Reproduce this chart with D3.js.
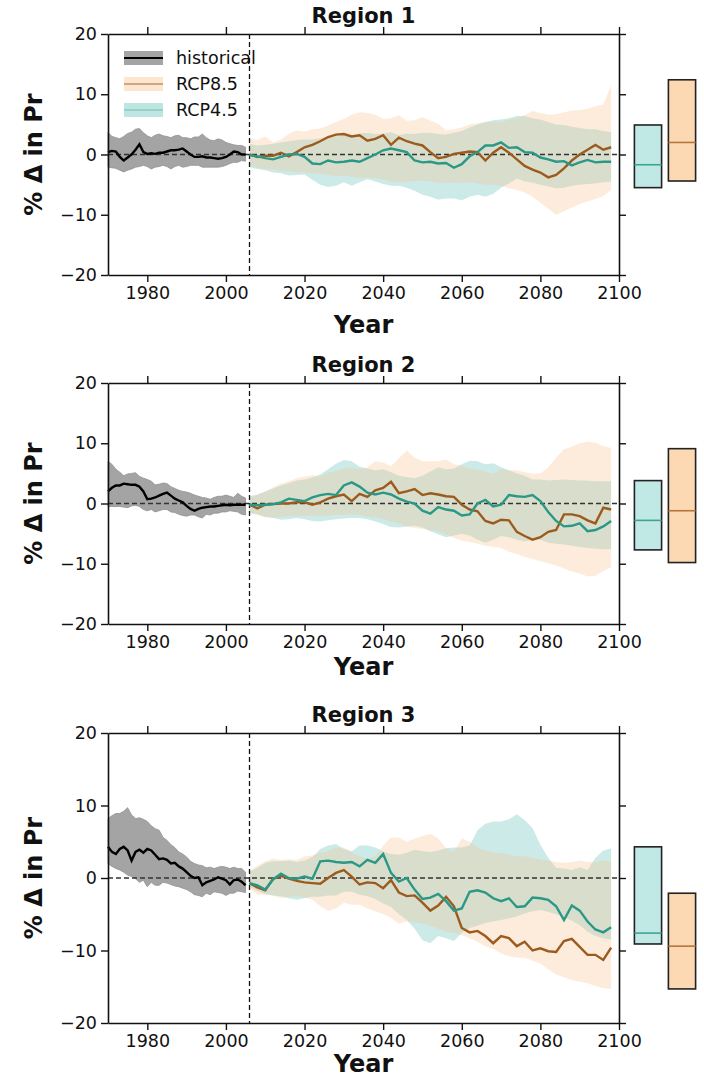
<!DOCTYPE html>
<html lang="en">

<head>
	<meta charset="utf-8">
	<title>D3: % change in precipitation by region</title>
	<script type="text/javascript" src="https://cdn.jsdelivr.net/npm/d3@7"></script>
	<style type="text/css">
		body {
			margin: 0;
			background: #fff;
		}
		svg text {
			font-family: "DejaVu Sans", sans-serif;
			fill: #111;
		}
	</style>
</head>

<body>
	<script type="text/javascript">

		// years and tick values
		var histYears = d3.range(1970, 2006);
		var rcpYears = d3.range(2006, 2100, 2);
		var xTicks = [1980, 2000, 2020, 2040, 2060, 2080, 2100];
		var yTicks = [-20, -10, 0, 10, 20];
		var regionNames = ["Region 1", "Region 2", "Region 3"];
		var scenarios = ["RCP4.5", "RCP8.5"];
		var legendNames = ["historical", "RCP8.5", "RCP4.5"];

		// Region 1
		var r1HistMean = [0.4, 0.6, 0.5, -0.4, -1.0, -0.5, 0.0, 0.8, 1.7, 0.4, 0.1, 0.2, 0.1, 0.3, 0.3, 0.5, 0.7, 0.7, 0.8, 1.0,
			0.5, 0.0, -0.4, -0.4, -0.3, -0.5, -0.5, -0.6, -0.7, -0.6, -0.4, 0.0, 0.5, 0.4, 0.0, 0.0];
		var r1HistHi = [3.7, 3.0, 2.8, 2.6, 3.0, 3.5, 3.7, 4.2, 4.3, 3.6, 3.1, 2.8, 3.2, 3.4, 3.1, 3.0, 2.8, 3.1, 3.2, 2.8,
			2.8, 2.6, 2.9, 2.9, 3.4, 2.8, 2.4, 2.3, 2.6, 2.4, 2.0, 1.8, 1.6, 1.5, 1.5, 1.2];
		var r1HistLo = [-2.1, -2.2, -2.3, -2.6, -2.9, -2.6, -2.4, -2.1, -2.0, -1.8, -2.0, -2.4, -2.1, -2.0, -1.8, -2.0, -2.4, -2.0, -1.8, -2.1,
			-2.0, -1.8, -1.8, -1.8, -2.1, -2.1, -2.1, -2.1, -2.1, -2.0, -1.8, -1.5, -1.3, -1.3, -1.0, -1.1];
		var r1R85Mean = [0.0, -0.4, -0.2, -0.2, 0.3, -0.3, 0.4, 1.2, 1.6, 2.2, 2.9, 3.3, 3.4, 3.0, 3.2,
			2.3, 2.6, 3.2, 1.6, 2.8, 2.2, 1.8, 1.5, 0.4, -0.6, -0.4, 0.1, 0.3, 0.5, 0.4, -1.0,
			0.3, 1.2, 0.3, -0.8, -1.9, -2.5, -3.0, -3.8, -3.4, -2.3, -1.0, 0.0, 0.8, 1.6, 0.8, 1.2];
		var r1R85Hi = [2.6, 2.4, 3.0, 2.0, 2.5, 3.4, 4.0, 3.8, 4.2, 4.3, 4.8, 5.4, 5.9, 6.6, 7.0,
			6.9, 6.6, 5.9, 6.0, 6.5, 5.6, 5.7, 6.2, 5.6, 5.1, 4.0, 4.2, 4.5, 5.0, 5.2, 5.4,
			5.4, 5.4, 5.8, 6.0, 6.5, 7.2, 6.9, 6.6, 6.7, 7.0, 7.3, 7.4, 7.6, 8.0, 8.3, 11.5];
		var r1R85Lo = [-1.8, -2.2, -2.5, -2.5, -2.8, -2.8, -3.0, -3.0, -3.1, -3.2, -3.4, -3.6, -3.5, -3.7, -3.9,
			-3.8, -4.0, -4.2, -4.5, -4.6, -4.6, -4.4, -4.3, -4.5, -4.7, -4.8, -4.6, -4.8, -4.6, -4.8, -5.0,
			-5.0, -5.2, -5.6, -5.9, -6.3, -7.0, -8.0, -9.0, -10.0, -9.4, -8.8, -8.2, -7.8, -7.4, -6.9, -5.9];
		var r1R45Mean = [-0.1, -0.3, -0.6, -0.8, -0.4, 0.0, 0.1, -0.4, -1.5, -1.6, -1.0, -1.3, -1.2, -1.0, -1.2,
			-0.6, 0.0, 0.7, 1.0, 0.7, 0.4, -1.0, -1.3, -1.2, -1.5, -1.4, -2.2, -1.6, -0.3, 0.4, 1.5,
			1.5, 2.0, 1.1, 1.2, 0.4, 0.3, -0.5, -0.8, -1.2, -1.1, -1.8, -1.3, -0.9, -1.3, -1.2, -1.2];
		var r1R45Hi = [1.8, 1.5, 1.6, 1.8, 2.0, 2.2, 2.4, 2.5, 2.5, 2.7, 3.0, 3.0, 3.2, 3.2, 3.5,
			3.6, 3.4, 3.5, 3.7, 3.2, 3.5, 3.4, 3.6, 3.6, 3.4, 3.3, 3.6, 3.9, 4.5, 5.0, 5.4,
			5.7, 5.8, 6.0, 6.4, 6.4, 6.0, 5.8, 5.4, 5.0, 4.9, 4.6, 4.4, 4.2, 4.2, 3.9, 3.7];
		var r1R45Lo = [-2.1, -2.4, -2.6, -3.0, -3.1, -3.5, -3.4, -3.3, -4.2, -5.0, -5.4, -5.2, -4.6, -5.2, -4.6,
			-4.1, -4.5, -4.9, -5.2, -5.2, -5.5, -6.0, -6.7, -7.0, -7.5, -7.3, -7.3, -7.6, -7.0, -6.7, -7.0,
			-6.5, -5.5, -4.8, -4.0, -4.5, -4.7, -5.0, -5.3, -5.6, -5.5, -5.2, -5.0, -4.9, -4.8, -4.6, -4.5];
		var r1Box45 = [-5.5, -1.7, 4.9];
		var r1Box85 = [-4.4, 2.0, 12.4];

		// Region 2
		var r2HistMean = [2.0, 2.6, 3.0, 3.0, 3.3, 3.2, 3.1, 3.1, 2.8, 2.0, 0.7, 0.8, 1.0, 1.3, 1.6, 1.8, 1.3, 0.8, 0.5, 0.2,
			-0.4, -0.9, -1.2, -0.9, -0.7, -0.6, -0.5, -0.5, -0.4, -0.3, -0.2, -0.3, -0.2, -0.2, -0.2, -0.2];
		var r2HistHi = [7.0, 6.5, 5.7, 5.2, 4.6, 4.9, 5.0, 5.1, 4.5, 4.2, 4.0, 3.7, 3.1, 3.2, 3.4, 3.3, 2.8, 2.5, 2.2, 2.0,
			1.9, 1.7, 1.4, 1.2, 1.0, 0.9, 0.7, 1.0, 1.2, 1.2, 1.4, 1.2, 1.0, 1.7, 1.2, 0.9];
		var r2HistLo = [-0.5, -0.5, -0.5, -0.5, -0.6, -0.7, -0.4, -0.3, -0.5, -1.0, -1.2, -1.0, -1.4, -1.2, -1.0, -1.0, -1.4, -1.5, -1.8, -2.0,
			-2.1, -1.9, -1.9, -2.2, -2.4, -1.8, -1.9, -1.6, -1.6, -1.4, -1.4, -1.2, -1.3, -1.4, -1.8, -1.9];
		var r2R85Mean = [-0.2, -0.8, -0.2, -0.1, 0.0, 0.0, 0.2, 0.2, -0.2, 0.2, 0.8, 1.2, 1.5, 0.4, 1.6,
			1.1, 2.2, 2.6, 3.6, 1.7, 2.0, 2.4, 1.4, 1.7, 1.5, 1.2, 1.1, -0.2, -1.0, -1.3, -2.9,
			-3.3, -2.7, -2.8, -4.7, -5.4, -6.0, -5.6, -4.7, -4.4, -1.8, -1.8, -2.1, -2.8, -3.3, -0.7, -1.0];
		var r2R85Hi = [0.9, 1.4, 2.0, 2.7, 3.3, 3.7, 4.2, 4.5, 4.7, 4.5, 5.1, 5.4, 5.8, 6.0, 5.7,
			6.0, 7.0, 6.8, 6.2, 7.5, 8.8, 7.6, 7.0, 7.0, 7.0, 7.3, 6.5, 6.3, 5.8, 5.6, 5.3,
			5.0, 5.7, 5.5, 5.5, 5.2, 5.0, 5.0, 6.0, 7.6, 9.0, 9.4, 10.0, 10.3, 10.1, 9.5, 9.2];
		var r2R85Lo = [-1.4, -1.9, -2.3, -2.4, -2.2, -2.1, -2.0, -2.1, -2.0, -2.1, -2.0, -1.9, -1.9, -1.8, -1.9,
			-2.2, -2.3, -2.6, -3.0, -3.3, -3.8, -4.1, -4.2, -4.5, -4.6, -5.1, -5.7, -6.2, -6.4, -6.7, -7.0,
			-7.2, -7.4, -8.0, -8.4, -8.9, -9.2, -9.6, -9.9, -10.3, -10.8, -11.3, -11.6, -12.1, -12.0, -11.2, -10.6];
		var r2R45Mean = [-0.2, -0.3, -0.2, -0.1, 0.2, 0.8, 0.6, 0.4, 1.0, 1.4, 1.6, 1.4, 3.0, 3.5, 2.8,
			1.8, 1.5, 1.8, 1.5, 0.8, 0.3, 0.0, -1.2, -1.7, -0.6, -1.0, -1.2, -2.0, -1.8, 0.0, 0.6,
			-0.5, -0.2, 1.4, 1.2, 1.1, 1.4, 0.4, -1.4, -2.9, -3.8, -3.7, -3.3, -4.6, -4.4, -3.8, -2.9];
		var r2R45Hi = [1.2, 1.5, 2.0, 2.5, 3.0, 3.4, 3.8, 4.0, 4.3, 4.8, 5.7, 6.6, 7.2, 7.0, 6.1,
			5.8, 5.5, 5.7, 5.2, 4.6, 4.4, 4.2, 4.6, 5.3, 6.0, 5.7, 5.8, 6.5, 7.1, 7.0, 6.5,
			6.7, 6.0, 5.5, 5.0, 4.6, 4.0, 4.0, 3.8, 3.9, 4.0, 3.9, 3.8, 3.8, 3.7, 3.7, 3.7];
		var r2R45Lo = [-1.6, -1.8, -2.2, -2.4, -2.7, -2.6, -2.4, -2.6, -2.9, -3.0, -2.8, -2.6, -2.5, -2.4, -2.4,
			-2.6, -3.0, -3.4, -3.9, -4.0, -3.8, -3.7, -4.0, -4.6, -5.1, -5.6, -5.3, -5.0, -5.3, -6.0, -6.5,
			-6.0, -5.4, -5.6, -6.0, -6.3, -6.0, -6.0, -6.5, -6.7, -6.8, -7.0, -7.2, -7.4, -7.5, -7.6, -7.6];
		var r2Box45 = [-7.7, -2.8, 3.8];
		var r2Box85 = [-9.8, -1.2, 9.1];

		// Region 3
		var r3HistMean = [4.3, 3.6, 3.3, 4.0, 4.3, 3.8, 2.4, 3.6, 3.9, 3.5, 4.0, 3.8, 3.2, 2.6, 2.7, 2.5, 2.0, 2.1, 1.6, 1.3,
			0.8, 0.3, 0.0, 0.1, -1.0, -0.6, -0.4, -0.2, 0.1, -0.1, -0.3, -0.9, -0.3, -0.2, -0.5, -1.0];
		var r3HistHi = [8.2, 8.6, 8.9, 8.9, 9.2, 9.7, 8.7, 8.2, 8.3, 8.1, 7.8, 7.2, 6.8, 6.6, 5.6, 5.2, 4.6, 4.2, 3.6, 3.3,
			2.9, 2.3, 2.0, 1.8, 1.7, 1.4, 1.5, 1.3, 1.5, 1.6, 1.5, 1.3, 1.5, 1.3, 1.3, 0.8];
		var r3HistLo = [2.0, 1.6, 1.3, 1.1, 0.8, 0.4, 0.2, -0.1, -0.6, -0.3, -1.2, -0.6, -1.0, -1.0, -0.6, -0.7, -0.9, -1.1, -1.2, -1.4,
			-1.6, -1.9, -2.3, -2.4, -2.6, -2.1, -2.3, -1.9, -2.0, -2.1, -2.4, -2.1, -2.1, -1.8, -1.9, -2.0];
		var r3R85Mean = [-0.7, -1.3, -1.7, -0.1, 0.3, -0.1, -0.4, -0.6, -0.7, -0.8, 0.0, 0.7, 1.1, 0.2, -0.9,
			-0.6, -0.7, -1.4, -0.3, -2.0, -2.5, -2.4, -3.4, -4.5, -3.8, -2.6, -3.9, -6.9, -7.5, -7.3, -8.0,
			-9.0, -8.0, -8.3, -9.4, -8.8, -10.0, -9.7, -10.1, -10.2, -8.7, -8.4, -9.5, -10.6, -10.6, -11.3, -9.6];
		var r3R85Hi = [0.9, 1.7, 2.3, 2.7, 2.5, 2.6, 2.5, 3.0, 3.1, 3.4, 3.7, 4.2, 4.2, 3.6, 3.0,
			2.7, 3.0, 4.5, 5.6, 5.6, 5.0, 5.4, 5.8, 6.1, 5.5, 4.1, 3.6, 5.5, 5.0, 4.2, 3.8,
			3.6, 3.4, 3.2, 3.0, 3.0, 2.8, 2.6, 2.4, 2.2, 2.1, 2.2, 2.4, 2.2, 2.2, 2.4, 2.3];
		var r3R85Lo = [-1.4, -2.3, -2.3, -2.4, -2.8, -2.6, -2.5, -2.7, -3.0, -3.9, -4.5, -4.2, -3.4, -3.7, -3.7,
			-4.2, -4.6, -5.0, -5.5, -6.3, -6.0, -6.1, -6.3, -6.6, -7.0, -7.4, -7.6, -7.9, -8.3, -8.8, -9.4,
			-9.8, -10.4, -10.8, -11.0, -11.0, -11.4, -11.8, -12.6, -13.3, -13.7, -14.1, -14.3, -14.5, -14.9, -15.2, -15.3];
		var r3R45Mean = [-0.7, -1.0, -1.6, -0.2, 0.6, 0.0, -0.1, 0.2, -0.1, 2.3, 2.4, 2.2, 2.1, 2.2, 1.6,
			2.5, 2.1, 3.3, 0.7, -0.5, 0.0, -1.6, -2.9, -2.7, -2.2, -3.2, -4.5, -4.2, -1.9, -1.7, -2.0,
			-2.8, -3.2, -2.8, -4.0, -3.9, -2.7, -2.8, -3.0, -3.9, -5.8, -3.8, -4.5, -6.0, -7.1, -7.5, -6.8];
		var r3R45Hi = [0.9, 1.4, 2.1, 2.3, 2.3, 2.4, 2.2, 2.4, 2.9, 4.0, 4.5, 4.7, 4.0, 3.7, 4.5,
			4.5, 4.2, 3.7, 3.3, 3.2, 3.5, 3.9, 3.7, 3.6, 3.8, 4.1, 4.2, 4.2, 4.5, 6.6, 7.5,
			7.8, 7.8, 8.1, 8.8, 8.0, 6.9, 4.6, 2.8, 1.4, 1.3, 1.1, 1.5, 1.1, 2.8, 3.8, 4.1];
		var r3R45Lo = [-1.2, -1.8, -2.2, -2.4, -2.5, -2.8, -3.0, -2.8, -2.6, -2.6, -2.4, -2.4, -1.9, -1.9, -2.3,
			-2.5, -2.9, -3.5, -4.0, -5.0, -5.8, -7.0, -8.6, -9.0, -8.0, -8.3, -8.7, -7.6, -6.9, -6.6, -6.2,
			-6.0, -5.8, -5.6, -5.3, -4.9, -4.6, -4.4, -4.7, -5.0, -5.4, -5.9, -6.5, -7.4, -8.0, -8.3, -8.5];
		var r3Box45 = [-9.1, -7.6, 4.3];
		var r3Box85 = [-15.3, -9.4, -2.1];

		var panels = [
			{ name: regionNames[0], hist: [r1HistMean, r1HistLo, r1HistHi], r85: [r1R85Mean, r1R85Lo, r1R85Hi], r45: [r1R45Mean, r1R45Lo, r1R45Hi], boxes: [r1Box45, r1Box85] },
			{ name: regionNames[1], hist: [r2HistMean, r2HistLo, r2HistHi], r85: [r2R85Mean, r2R85Lo, r2R85Hi], r45: [r2R45Mean, r2R45Lo, r2R45Hi], boxes: [r2Box45, r2Box85] },
			{ name: regionNames[2], hist: [r3HistMean, r3HistLo, r3HistHi], r85: [r3R85Mean, r3R85Lo, r3R85Hi], r45: [r3R45Mean, r3R45Lo, r3R45Hi], boxes: [r3Box45, r3Box85] }
		];

		// layout of each panel (plot top / bottom, offset of the x label)
		var layout = [
			{ top: 34, bottom: 275, xlab: 58 },
			{ top: 383, bottom: 624, xlab: 51 },
			{ top: 733, bottom: 1023, xlab: 49 }
		];

		var colors = {
			histFill: "#a4a4a4", histLine: "#000",
			r85Fill: "#f7c08a", r85Line: "#9c5b1e", r85Box: "#fcd9b3", r85Med: "#b8743a",
			r45Fill: "#6cc5bd", r45Line: "#2a9886", r45Box: "#c0e8e4", r45Med: "#3aa696"
		};

		var w = 704;
		var h = 1085;
		var left = 108, right = 619;

		var svg = d3.select("body")
			.append("svg")
			.attr("width", w)
			.attr("height", h);

		var x = d3.scaleLinear().domain([1970, 2100]).range([left, right]);
		var xBox = d3.scaleBand().domain(scenarios).range([631, 699]).paddingInner(0.2).paddingOuter(0.1);

		function rows(years, s) {
			return years.map(function(yr, i) {
				return { year: yr, mean: s[0][i], lo: s[1][i], hi: s[2][i] };
			});
		}

		panels.forEach(function(p, k) {
			var L = layout[k];
			var y = d3.scaleLinear().domain([-20, 20]).range([L.bottom, L.top]);
			var g = svg.append("g");

			var area = d3.area()
				.x(function(d){ return x(d.year); })
				.y0(function(d){ return y(d.lo); })
				.y1(function(d){ return y(d.hi); });
			var line = d3.line()
				.x(function(d){ return x(d.year); })
				.y(function(d){ return y(d.mean); });

			var hist = rows(histYears, p.hist);
			var r85 = rows(rcpYears, p.r85);
			var r45 = rows(rcpYears, p.r45);

			// spread bands
			g.append("path").datum(hist).attr("d", area)
				.attr("fill", colors.histFill).attr("stroke", "#909090").attr("stroke-width", 0.8);
			g.append("path").datum(r45).attr("d", area)
				.attr("fill", colors.r45Fill).attr("fill-opacity", 0.35);
			g.append("path").datum(r85).attr("d", area)
				.attr("fill", colors.r85Fill).attr("fill-opacity", 0.3);

			// zero line and 2006 line
			g.append("line")
				.attr("x1", left).attr("x2", right)
				.attr("y1", y(0)).attr("y2", y(0))
				.attr("stroke", "#333").attr("stroke-width", 1.3)
				.attr("stroke-dasharray", "5,3");
			g.append("line")
				.attr("x1", x(2006)).attr("x2", x(2006))
				.attr("y1", L.top).attr("y2", L.bottom)
				.attr("stroke", "#111").attr("stroke-width", 1.3)
				.attr("stroke-dasharray", "5,3");

			// mean lines
			g.append("path").datum(hist).attr("d", line)
				.attr("fill", "none").attr("stroke", colors.histLine).attr("stroke-width", 2.4);
			g.append("path").datum(r85).attr("d", line)
				.attr("fill", "none").attr("stroke", colors.r85Line).attr("stroke-width", 2.4);
			g.append("path").datum(r45).attr("d", line)
				.attr("fill", "none").attr("stroke", colors.r45Line).attr("stroke-width", 2.4);

			// axes on all four sides
			var axL = g.append("g").attr("transform", "translate(" + left + ",0)")
				.call(d3.axisLeft(y).tickValues(yTicks).tickSize(7).tickSizeOuter(0).tickPadding(4));
			var axB = g.append("g").attr("transform", "translate(0," + L.bottom + ")")
				.call(d3.axisBottom(x).tickValues(xTicks).tickFormat(d3.format("d")).tickSize(7).tickSizeOuter(0).tickPadding(5));
			var axT = g.append("g").attr("transform", "translate(0," + L.top + ")")
				.call(d3.axisTop(x).tickValues(xTicks).tickFormat("").tickSize(7).tickSizeOuter(0));
			var axR = g.append("g").attr("transform", "translate(" + right + ",0)")
				.call(d3.axisRight(y).tickValues(yTicks).tickFormat("").tickSize(7).tickSizeOuter(0));

			[axL, axB, axT, axR].forEach(function(a) {
				a.select(".domain").attr("stroke", "#111").attr("stroke-width", 1.6);
				a.selectAll(".tick line").attr("stroke", "#111").attr("stroke-width", 1.4);
				a.selectAll(".tick text").attr("font-size", "17.5px").attr("fill", "#222")
					.attr("font-family", "DejaVu Sans, sans-serif");
			});

			// box plots beside the panel
			var bx = g.selectAll("g.box")
				.data(scenarios)
				.enter()
				.append("g");
			bx.append("rect")
				.attr("x", function(d){ return xBox(d); })
				.attr("width", xBox.bandwidth())
				.attr("y", function(d, i){ return y(p.boxes[i][2]); })
				.attr("height", function(d, i){ return y(p.boxes[i][0]) - y(p.boxes[i][2]); })
				.attr("fill", function(d, i){ return i === 0 ? colors.r45Box : colors.r85Box; })
				.attr("stroke", "#222")
				.attr("stroke-width", 1.6);
			bx.append("line")
				.attr("x1", function(d){ return xBox(d); })
				.attr("x2", function(d){ return xBox(d) + xBox.bandwidth(); })
				.attr("y1", function(d, i){ return y(p.boxes[i][1]); })
				.attr("y2", function(d, i){ return y(p.boxes[i][1]); })
				.attr("stroke", function(d, i){ return i === 0 ? colors.r45Med : colors.r85Med; })
				.attr("stroke-width", 1.6);

			// titles
			g.append("text")
				.attr("x", (left + right) / 2)
				.attr("y", L.top - 11)
				.attr("text-anchor", "middle")
				.attr("font-size", "21px")
				.attr("font-weight", "bold")
				.text(p.name);
			g.append("text")
				.attr("x", (left + right) / 2)
				.attr("y", L.bottom + L.xlab)
				.attr("text-anchor", "middle")
				.attr("font-size", "24px")
				.attr("font-weight", "bold")
				.text("Year");
			g.append("text")
				.attr("transform", "translate(42," + (L.top + L.bottom) / 2 + ") rotate(-90)")
				.attr("text-anchor", "middle")
				.attr("font-size", "24px")
				.attr("font-weight", "bold")
				.text("% \u0394 in Pr");
		});

		// legend (first panel only)
		var legendStyle = [
			{ fill: colors.histFill, fillOp: 1, line: colors.histLine, lineOp: 1 },
			{ fill: colors.r85Fill, fillOp: 0.4, line: colors.r85Line, lineOp: 0.45 },
			{ fill: colors.r45Fill, fillOp: 0.45, line: colors.r45Line, lineOp: 0.25 }
		];
		var lg = svg.selectAll("g.legend")
			.data(legendNames)
			.enter()
			.append("g")
			.attr("transform", function(d, i){ return "translate(124," + (58 + i * 26) + ")"; });
		lg.append("rect")
			.attr("x", 0).attr("y", -7)
			.attr("width", 39).attr("height", 14)
			.attr("fill", function(d, i){ return legendStyle[i].fill; })
			.attr("fill-opacity", function(d, i){ return legendStyle[i].fillOp; });
		lg.append("line")
			.attr("x1", 0).attr("x2", 39)
			.attr("stroke", function(d, i){ return legendStyle[i].line; })
			.attr("stroke-opacity", function(d, i){ return legendStyle[i].lineOp; })
			.attr("stroke-width", 2.2);
		lg.append("text")
			.attr("x", 52)
			.attr("y", 6)
			.attr("font-size", "17.5px")
			.text(function(d){ return d; });

	</script>
</body>

</html>
